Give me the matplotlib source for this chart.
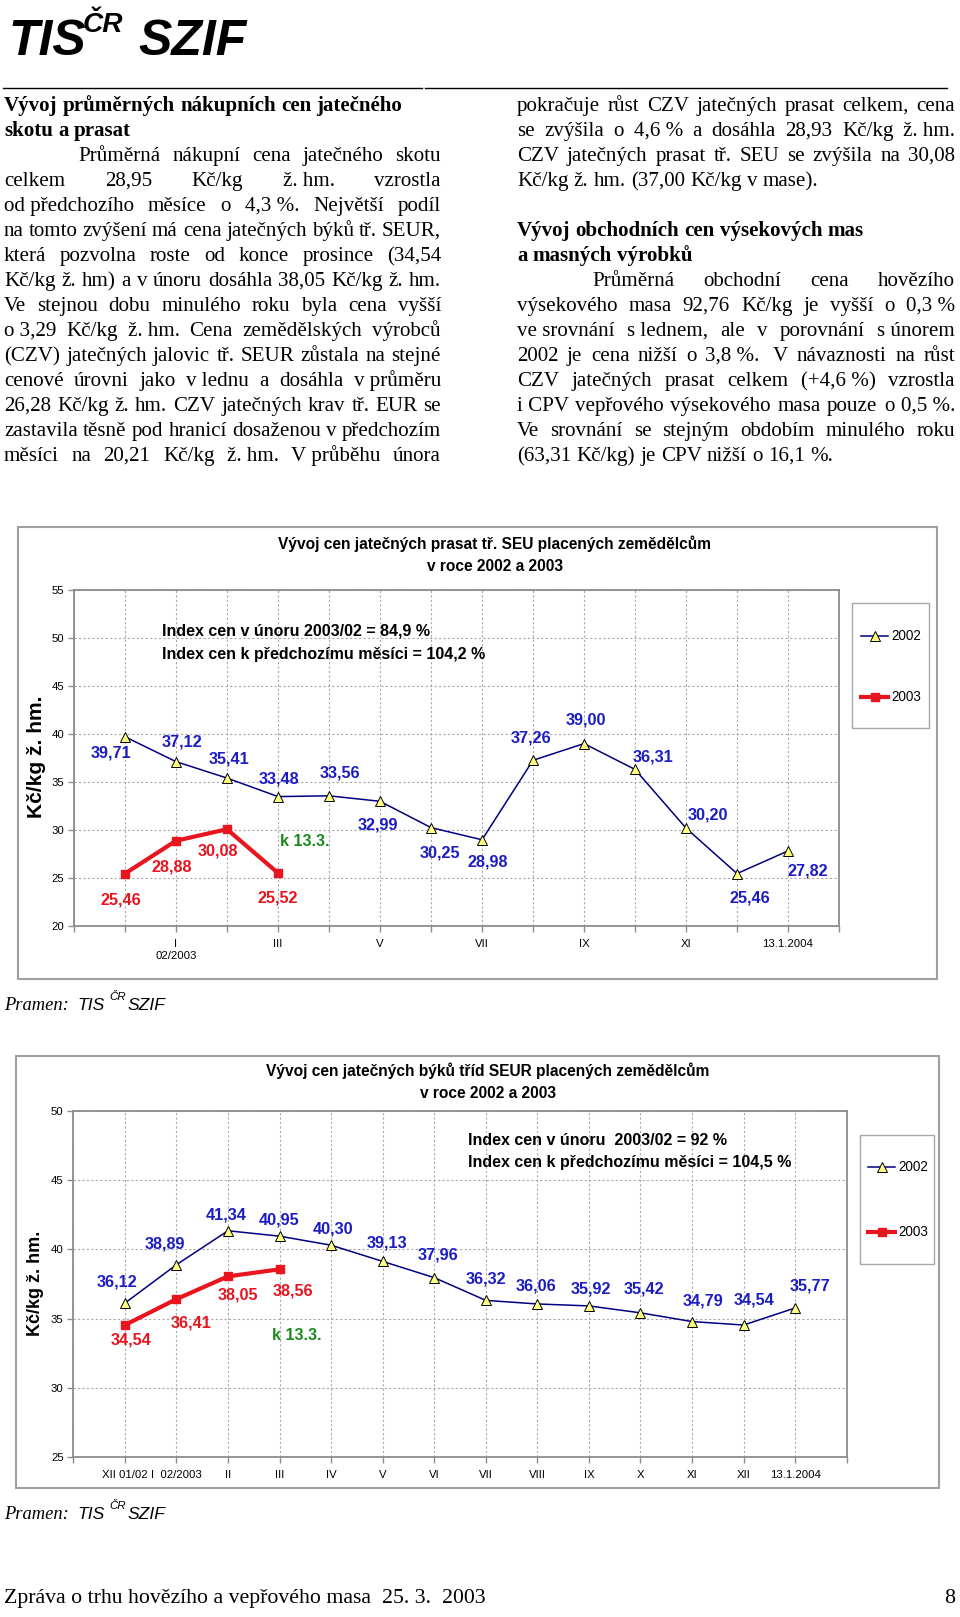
import numpy as np
import matplotlib
matplotlib.use("Agg")
import matplotlib.pyplot as plt
from matplotlib.patches import Rectangle

W, H = 960, 1617
SANS = ["Liberation Sans", "DejaVu Sans"]
SERIF = ["Liberation Serif", "DejaVu Serif"]
NB = "\u00a0"

# --- chart 1: prasata tr. SEU ---
pig_ticks = ["", "", "I\n02/2003", "", "III", "", "V", "", "VII", "", "IX", "", "XI", "", "13.1.2004", ""]
pig_2002 = [39.71, 37.12, 35.41, 33.48, 33.56, 32.99, 30.25, 28.98, 37.26, 39.00, 36.31, 30.20, 25.46, 27.82]
pig_2003 = [25.46, 28.88, 30.08, 25.52]

# --- chart 2: byci tr. SEUR ---
bull_ticks = ["", "XII 01/02", "I  02/2003", "II", "III", "IV", "V", "VI", "VII", "VIII", "IX", "X", "XI", "XII", "13.1.2004", ""]
bull_2002 = [36.12, 38.89, 41.34, 40.95, 40.30, 39.13, 37.96, 36.32, 36.06, 35.92, 35.42, 34.79, 34.54, 35.77]
bull_2003 = [34.54, 36.41, 38.05, 38.56]

# label offsets in pixels (dx, dy up)
pig_off02 = [(-14, -16), (6, 20), (2, 19), (1, 18), (11, 23), (-2, -24), (9, -25), (6, -22),
             (-2, 22), (2, 24), (18, 12), (22, 13), (13, -24), (20, -20)]
pig_off03 = [(-4, -26), (-4, -26), (-9, -22), (0, -25)]
bull_off02 = [(-8, 21), (-11, 21), (-2, 16), (0, 16), (2, 16), (4, 18), (4, 23), (0, 21),
              (-1, 18), (2, 17), (4, 24), (11, 21), (10, 25), (15, 22)]
bull_off03 = [(6, -15), (15, -24), (10, -19), (13, -22)]

NAVY = "#000080"
BLUE = "#1c1cc4"
RED = "#e8141e"
GREEN = "#1a8a1a"
GRAY = "#8c8c8c"


def pt(px):
    return px * 72 / 100


fig = plt.figure(figsize=(W / 100, H / 100), dpi=100)


def fmt(v):
    return f"{v:.2f}".replace(".", ",")


def draw_chart(box, ylim, ticklabels, s02, s03, off02, off03):
    l, t, r, b = box
    ax = fig.add_axes([l / W, 1 - b / H, (r - l) / W, (b - t) / H])
    x02 = np.arange(1, len(s02) + 1)
    x03 = np.arange(1, len(s03) + 1)
    ax.plot(x02, s02, color=NAVY, lw=1.1, marker="^", ms=6.5, mfc="#ffff80", mec="black", mew=0.7, zorder=3)
    ax.plot(x03, s03, color=RED, lw=3, marker="s", ms=5.5, zorder=4)
    ax.set_xlim(0, 15)
    ax.set_ylim(*ylim)
    ax.set_yticks(np.arange(ylim[0], ylim[1] + 1, 5))
    ax.set_xticks(range(16))
    ax.set_xticklabels(ticklabels, fontsize=pt(11.4), family=SANS, linespacing=1.25)
    ax.set_yticklabels([str(v) for v in range(ylim[0], ylim[1] + 1, 5)], fontsize=pt(11.4), family=SANS)
    ax.grid(True, ls=(0, (2, 2)), color="#a8a8a8", lw=0.8)
    for sp in ax.spines.values():
        sp.set_color(GRAY)
        sp.set_linewidth(1.3)
    ax.tick_params(axis="both", length=4, color=GRAY, width=1)
    ax.tick_params(axis="x", pad=5)
    ax.tick_params(axis="y", pad=3)
    for x, v, (dx, dy) in zip(x02, s02, off02):
        ax.annotate(fmt(v), (x, v), xytext=(dx, dy), textcoords="offset pixels", ha="center", va="center",
                    fontsize=pt(16.3), weight="bold", color=BLUE, family=SANS, zorder=5)
    for x, v, (dx, dy) in zip(x03, s03, off03):
        ax.annotate(fmt(v), (x, v), xytext=(dx, dy), textcoords="offset pixels", ha="center", va="center",
                    fontsize=pt(16.3), weight="bold", color=RED, family=SANS, zorder=5)
    return ax


draw_chart((74, 590, 839, 926), (20, 55), pig_ticks, pig_2002, pig_2003, pig_off02, pig_off03)
draw_chart((73.3, 1110.7, 846.7, 1457.3), (25, 50), bull_ticks, bull_2002, bull_2003, bull_off02, bull_off03)

# page overlay in pixel coordinates
pg = fig.add_axes([0, 0, 1, 1], zorder=10)
pg.set_xlim(0, W)
pg.set_ylim(H, 0)
pg.axis("off")
rend = fig.canvas.get_renderer()


def width(t):
    return t.get_window_extent(renderer=rend).width


def text_line(x0, x1, y, line, size, justify=True, indent=0, weight="normal"):
    toks = line.split(" ")
    ts = [pg.text(0, y, tok, fontsize=pt(size), family=SERIF, weight=weight, va="baseline", ha="left")
          for tok in toks]
    ws = [width(t) for t in ts]
    probe = pg.text(0, 0, "x x", fontsize=pt(size), family=SERIF, weight=weight)
    probe2 = pg.text(0, 0, "xx", fontsize=pt(size), family=SERIF, weight=weight)
    sp = width(probe) - width(probe2)
    probe.remove()
    probe2.remove()
    start = x0 + indent
    gap = (x1 - start - sum(ws)) / (len(ts) - 1) if justify and len(ts) > 1 else sp
    gap = max(gap, 0.6 * sp)
    x = start
    for t, w in zip(ts, ws):
        t.set_x(x)
        x += w + gap


# header
pg.text(8, 55, "TIS", fontsize=pt(50), weight="bold", style="italic", family=SANS, va="baseline")
pg.text(83, 32, "ČR", fontsize=pt(28), weight="bold", style="italic", family=SANS, va="baseline")
pg.text(138, 55, "SZIF", fontsize=pt(50), weight="bold", style="italic", family=SANS, va="baseline")
pg.plot([3, 422], [88, 88], color="black", lw=1)
pg.plot([425, 947], [88, 88], color="black", lw=1)

BODY = 21
left_lines = [
    ("Průměrná nákupní cena jatečného skotu", True, 74),
    (f"celkem 28,95 Kč/kg ž.{NB}hm. vzrostla", True, 0),
    (f"od{NB}předchozího měsíce o 4,3{NB}%. Největší podíl", True, 0),
    ("na tomto zvýšení má cena jatečných býků tř. SEUR,", True, 0),
    ("která pozvolna roste od konce prosince (34,54", True, 0),
    ("Kč/kg ž. hm) a v únoru dosáhla 38,05 Kč/kg ž. hm.", True, 0),
    ("Ve stejnou dobu minulého roku byla cena vyšší", True, 0),
    (f"o{NB}3,29 Kč/kg ž.{NB}hm. Cena zemědělských výrobců", True, 0),
    ("(CZV) jatečných jalovic tř. SEUR zůstala na stejné", True, 0),
    (f"cenové úrovni jako v{NB}lednu a dosáhla v{NB}průměru", True, 0),
    ("26,28 Kč/kg ž. hm. CZV jatečných krav tř. EUR se", True, 0),
    ("zastavila těsně pod hranicí dosaženou v předchozím", True, 0),
    (f"měsíci na 20,21 Kč/kg ž.{NB}hm. V{NB}průběhu února", True, 0),
]
text_line(4, 441, 111, "Vývoj průměrných nákupních cen jatečného", BODY, False, weight="bold")
text_line(4, 441, 136, "skotu a prasat", BODY, False, weight="bold")
for i, (ln, j, ind) in enumerate(left_lines):
    text_line(4, 441, 161 + 25 * i, ln, BODY, j, ind)

right_top = [
    ("pokračuje růst CZV jatečných prasat celkem, cena", True, 0),
    (f"se zvýšila o 4,6{NB}% a dosáhla 28,93 Kč/kg ž.{NB}hm.", True, 0),
    ("CZV jatečných prasat tř. SEU se zvýšila na 30,08", True, 0),
    ("Kč/kg ž. hm. (37,00 Kč/kg v mase).", False, 0),
]
right_bottom = [
    ("Průměrná obchodní cena hovězího", True, 75),
    (f"výsekového masa 92,76 Kč/kg je vyšší o 0,3{NB}%", True, 0),
    (f"ve{NB}srovnání s{NB}lednem, ale v porovnání s{NB}únorem", True, 0),
    (f"2002 je cena nižší o 3,8{NB}%.{NB} V návaznosti na růst", True, 0),
    (f"CZV jatečných prasat celkem (+4,6{NB}%) vzrostla", True, 0),
    (f"i{NB}CPV vepřového výsekového masa pouze o 0,5{NB}%.", True, 0),
    ("Ve srovnání se stejným obdobím minulého roku", True, 0),
    ("(63,31 Kč/kg) je CPV nižší o 16,1 %.", False, 0),
]
for i, (ln, j, ind) in enumerate(right_top):
    text_line(517, 955, 111 + 25 * i, ln, BODY, j, ind)
text_line(517, 955, 236, "Vývoj obchodních cen výsekových mas", BODY, False, weight="bold")
text_line(517, 955, 261, "a masných výrobků", BODY, False, weight="bold")
for i, (ln, j, ind) in enumerate(right_bottom):
    text_line(517, 955, 286 + 25 * i, ln, BODY, j, ind)

# chart frames and decorations
pg.add_patch(Rectangle((18, 527), 919, 452, fill=False, ec="#a0a0a0", lw=1.5))
pg.add_patch(Rectangle((16, 1056), 923, 432, fill=False, ec="#a0a0a0", lw=1.5))

TSZ = pt(15.5)
pg.text(494.7, 544, "Vývoj cen jatečných prasat tř. SEU placených zemědělcům", fontsize=TSZ, weight="bold",
        family=SANS, ha="center", va="center")
pg.text(494.7, 566, "v roce 2002 a 2003", fontsize=TSZ, weight="bold", family=SANS, ha="center", va="center")
pg.text(488, 1071, "Vývoj cen jatečných býků tříd SEUR placených zemědělcům", fontsize=TSZ, weight="bold",
        family=SANS, ha="center", va="center")
pg.text(488, 1093, "v roce 2002 a 2003", fontsize=TSZ, weight="bold", family=SANS, ha="center", va="center")

pg.text(36.7, 757, "Kč/kg ž. hm.", fontsize=pt(21), weight="bold", family=SANS, rotation=90,
        ha="center", va="center")
pg.text(35, 1283, "Kč/kg ž. hm.", fontsize=pt(18), weight="bold", family=SANS, rotation=90,
        ha="center", va="center")

ISZ = pt(16)
pg.text(161.7, 631, "Index cen v únoru 2003/02 = 84,9 %", fontsize=ISZ, weight="bold", family=SANS, va="center")
pg.text(161.7, 654, "Index cen k předchozímu měsíci = 104,2 %", fontsize=ISZ, weight="bold", family=SANS,
        va="center")
pg.text(468.3, 1140, "Index cen v únoru  2003/02 = 92 %", fontsize=ISZ, weight="bold", family=SANS, va="center")
pg.text(468.3, 1162.7, "Index cen k předchozímu měsíci = 104,5 %", fontsize=ISZ, weight="bold", family=SANS,
        va="center")

pg.text(305, 841.7, "k 13.3.", fontsize=ISZ, weight="bold", color=GREEN, family=SANS, ha="center", va="center")
pg.text(296.7, 1335.3, "k 13.3.", fontsize=ISZ, weight="bold", color=GREEN, family=SANS, ha="center", va="center")


def legend(box, ys, x0, x1, tx):
    l, t, r, b = box
    pg.add_patch(Rectangle((l, t), r - l, b - t, fill=False, ec="#a8a8a8", lw=1))
    pg.plot([x0, x1], [ys[0], ys[0]], color=NAVY, lw=1.1)
    pg.plot([(x0 + x1) / 2], [ys[0]], marker="^", ms=6.5, mfc="#ffff80", mec="black", mew=0.7)
    pg.plot([x0, x1], [ys[1], ys[1]], color=RED, lw=3)
    pg.plot([(x0 + x1) / 2], [ys[1]], marker="s", ms=5.5, color=RED)
    pg.text(tx, ys[0], "2002", fontsize=pt(13.5), family=SANS, va="center")
    pg.text(tx, ys[1], "2003", fontsize=pt(13.5), family=SANS, va="center")


legend((851.7, 603.3, 929, 728.3), (635.7, 697.3), 861, 888, 891)
legend((860, 1135, 934, 1264), (1167.3, 1232.3), 868.3, 895, 898)


def pramen(y):
    pg.text(4, y, "Pramen:", fontsize=pt(18.5), style="italic", family=SERIF, va="baseline")
    pg.text(77, y, "TIS", fontsize=pt(17.5), style="italic", family=SANS, va="baseline")
    pg.text(109, y - 10, "ČR", fontsize=pt(11.5), style="italic", family=SANS, va="baseline")
    pg.text(127.7, y, "SZIF", fontsize=pt(17.5), style="italic", family=SANS, va="baseline")


pramen(1010)
pramen(1519)

# footer
pg.text(4, 1602.7, "Zpráva o trhu hovězího a vepřového masa  25. 3.  2003", fontsize=pt(21.8), family=SERIF,
        va="baseline")
pg.text(955, 1602.7, "8", fontsize=pt(22), family=SERIF, va="baseline", ha="right")

fig.savefig("out.png", dpi=100)
